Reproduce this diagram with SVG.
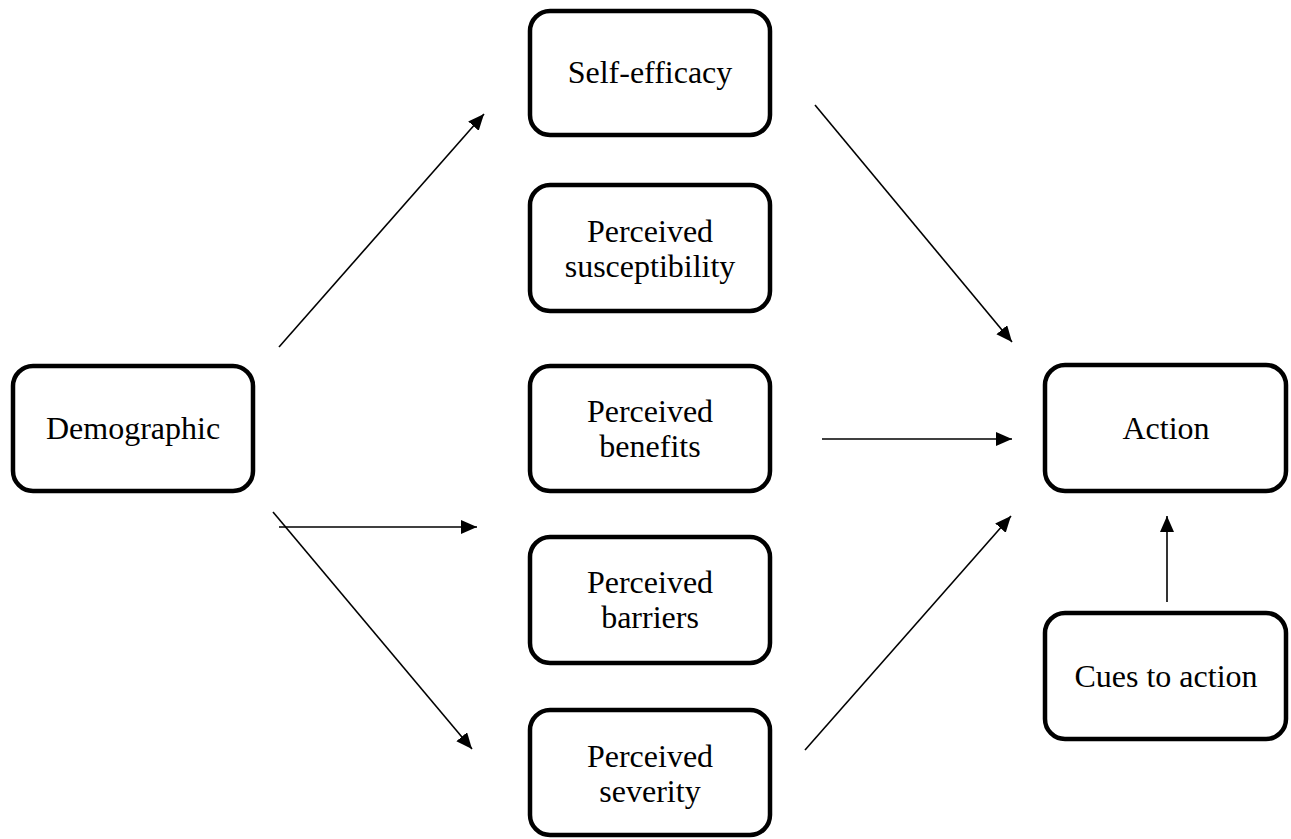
<svg xmlns="http://www.w3.org/2000/svg" width="1291" height="839" viewBox="0 0 1291 839">
<style>
.box{fill:#fff;stroke:#000;stroke-width:4.5}
.lbl{font-family:"Liberation Serif","Times New Roman",serif;font-size:32px;fill:#000;text-anchor:middle}
.con{stroke:#000;stroke-width:1.6;fill:none;marker-end:url(#ah)}
</style>
<defs>
<marker id="ah" markerUnits="userSpaceOnUse" markerWidth="17" markerHeight="15" refX="16" refY="7" orient="auto">
<path d="M0,0 L16,7 L0,14 z" fill="#000"/>
</marker>
</defs>
<rect width="1291" height="839" fill="#fff"/>
<g id="connectors">
<line class="con" x1="279" y1="347" x2="484" y2="114"/>
<line class="con" x1="815" y1="105" x2="1012" y2="342"/>
<line class="con" x1="822" y1="439" x2="1012" y2="439"/>
<line class="con" x1="279" y1="527" x2="477" y2="527"/>
<line class="con" x1="273" y1="512" x2="472" y2="749"/>
<line class="con" x1="805" y1="750" x2="1011" y2="516"/>
<line class="con" x1="1167" y1="602" x2="1167" y2="516"/>
</g>
<g id="demographic">
<rect class="box" x="13" y="366" width="240" height="125" rx="20"/>
<text class="lbl" x="133" y="439">Demographic</text>
</g>
<g id="self-efficacy">
<rect class="box" x="530" y="11" width="240" height="124" rx="20"/>
<text class="lbl" x="650" y="83">Self-efficacy</text>
</g>
<g id="susceptibility">
<rect class="box" x="530" y="185" width="240" height="126" rx="20"/>
<text class="lbl" x="650" y="241.5">Perceived</text>
<text class="lbl" x="650" y="276.5">susceptibility</text>
</g>
<g id="benefits">
<rect class="box" x="530" y="366" width="240" height="125" rx="20"/>
<text class="lbl" x="650" y="422">Perceived</text>
<text class="lbl" x="650" y="457">benefits</text>
</g>
<g id="barriers">
<rect class="box" x="530" y="537" width="240" height="126" rx="20"/>
<text class="lbl" x="650" y="593">Perceived</text>
<text class="lbl" x="650" y="628">barriers</text>
</g>
<g id="severity">
<rect class="box" x="530" y="710" width="240" height="125" rx="20"/>
<text class="lbl" x="650" y="767">Perceived</text>
<text class="lbl" x="650" y="802">severity</text>
</g>
<g id="action">
<rect class="box" x="1045" y="365" width="241" height="126" rx="20"/>
<text class="lbl" x="1166" y="439">Action</text>
</g>
<g id="cues">
<rect class="box" x="1045" y="613" width="241" height="126" rx="20"/>
<text class="lbl" x="1166" y="687">Cues to action</text>
</g>
</svg>
